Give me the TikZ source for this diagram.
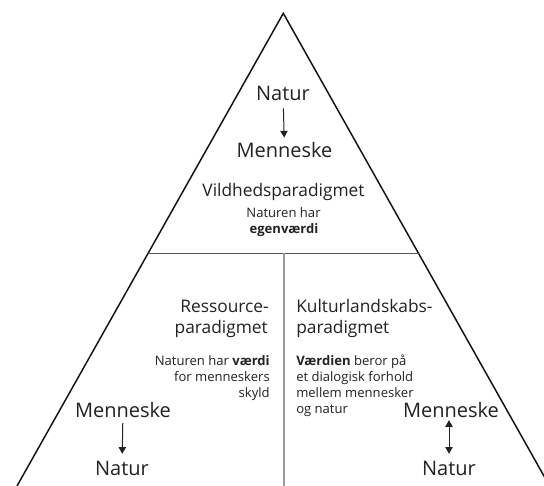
\documentclass[tikz,border=0pt]{standalone}
\usepackage{fontspec}
\setmainfont{Open Sans}
\usetikzlibrary{arrows.meta,calc}
\definecolor{txt}{HTML}{222222}
\definecolor{edge}{HTML}{111111}
\definecolor{hline}{HTML}{555555}
\definecolor{vline}{HTML}{9A9A9A}
\begin{document}
\begin{tikzpicture}[x=0.75pt,y=-0.75pt,
  big/.style={font=\fontsize{15}{18}\selectfont, inner sep=0pt, text=txt, anchor=base},
  ttl/.style={font=\fontsize{13}{16}\selectfont, inner sep=0pt, text=txt},
  sml/.style={font=\fontsize{9.8}{12}\selectfont, inner sep=0pt, text=txt},
  arr/.style={draw=txt, line width=0.75pt, -{Triangle[length=5pt,width=5.5pt]}},
  darr/.style={draw=txt, line width=0.75pt, {Triangle[length=5pt,width=5.5pt]}-{Triangle[length=5pt,width=5.5pt]}},
  side/.style={draw=edge, line width=1.1pt, line join=miter},
]
\useasboundingbox (0,0) rectangle (544,486);
\clip (0,0) rectangle (544,486);
\fill[white] (0,0) rectangle (544,486);

% triangle
\coordinate (apex) at (283.3,13.3);
\coordinate (bl) at (17,486);
\coordinate (br) at (549.6,486);
\draw[side] (bl) -- (apex) -- (br);

% dividers
\coordinate (hl) at ($(apex)!0.5077!(bl)$);
\coordinate (hr) at ($(apex)!0.5077!(br)$);
\draw[draw=hline, line width=0.75pt] (hl) -- (hr);
\coordinate (vt) at (284,253.3);
\coordinate (vb) at (284,490);
\draw[draw=vline, line width=1.5pt] (vt) -- (vb);

% top section
\node[big] (natA) at (283,100) {Natur};
\node[big] (menA) at (284.5,157) {Menneske};
\draw[arr, shorten <=6pt*0.75/0.75, shorten >=3pt] (natA) -- (menA);
\node[ttl, anchor=base] (vild) at (283.5,196) {Vildhedsparadigmet};
\node[sml, anchor=base] (vildA) at (283.5,217) {Naturen har};
\node[sml, anchor=base] (vildB) at (284,233) {\textbf{egenværdi}};

% left section
\node[ttl, anchor=base east] (resA) at (269,312) {Ressource-};
\node[ttl, anchor=base east] (resB) at (268,333) {paradigmet};
\node[sml, anchor=base east] (resC) at (270,365) {Naturen har \textbf{værdi}};
\node[sml, anchor=base east] (resD) at (270,381) {for menneskers};
\node[sml, anchor=base east] (resE) at (270,397) {skyld};
\node[big] (menB) at (123,417) {Menneske};
\node[big] (natB) at (122,475) {Natur};
\draw[arr, shorten <=4pt, shorten >=5pt] (menB) -- (natB);

% right section
\node[ttl, anchor=base west] (kulA) at (296,312) {Kulturlandskabs-};
\node[ttl, anchor=base west] (kulB) at (296,333) {paradigmet};
\node[sml, anchor=base west] (kulC) at (296,365) {\textbf{Værdien} beror på};
\node[sml, anchor=base west] (kulD) at (296,381) {et dialogisk forhold};
\node[sml, anchor=base west] (kulE) at (296,397) {mellem mennesker};
\node[sml, anchor=base west] (kulF) at (296,413) {og natur};
\node[big] (menC) at (451,417) {Menneske};
\node[big] (natC) at (449,475) {Natur};
\draw[darr, shorten <=2pt, shorten >=5pt] (menC.south -| natC) -- (natC.north);
\end{tikzpicture}
\end{document}
